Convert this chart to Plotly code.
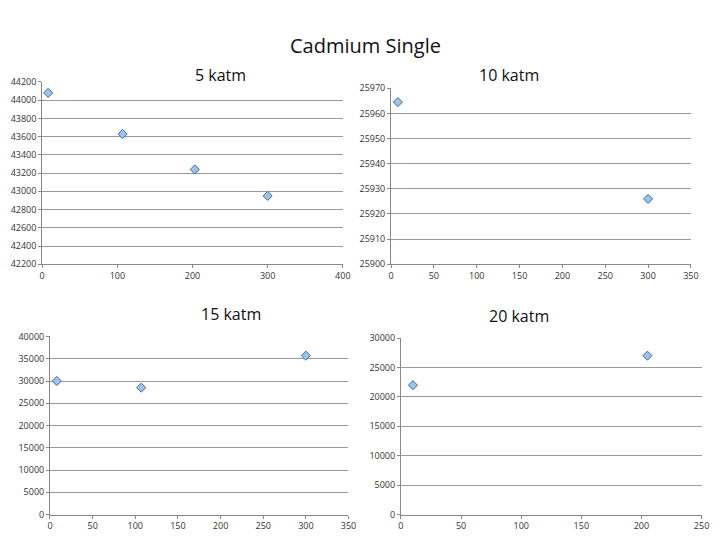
import plotly.graph_objects as go

titles = ["5 katm", "10 katm", "15 katm", "20 katm"]
x5 = [8, 107, 203, 300]
y5 = [44080, 43630, 43240, 42950]
x10 = [8, 300]
y10 = [25964.5, 25926]
x15 = [8, 107, 300]
y15 = [30000, 28500, 35700]
x20 = [10, 205]
y20 = [22000, 27000]

xs = [x5, x10, x15, x20]
ys = [y5, y10, y15, y20]
xranges = [(0, 400, 100), (0, 350, 50), (0, 350, 50), (0, 250, 50)]
yranges = [(42200, 44200, 200), (25900, 25970, 10), (0, 40000, 5000), (0, 30000, 5000)]
xdom = [(0.044, 0.468), (0.536, 0.959), (0.055, 0.476), (0.550, 0.974)]
ydom = [(0.527, 0.873), (0.527, 0.861), (0.052, 0.390), (0.052, 0.387)]
title_y = [0.911, 0.911, 0.432, 0.428]

fig = go.Figure()
lay = {}
for i in range(4):
    s = "" if i == 0 else str(i + 1)
    fig.add_trace(go.Scatter(x=xs[i], y=ys[i], mode="markers", xaxis="x" + s, yaxis="y" + s,
                             marker=dict(symbol="diamond", size=7, color="#9dc3e6",
                                         line=dict(color="#3d6aa6", width=1)),
                             showlegend=False))
    x0, x1, dx = xranges[i]
    y0, y1, dy = yranges[i]
    lay["xaxis" + s] = dict(domain=xdom[i], range=[x0, x1], dtick=dx, anchor="y" + s,
                            showgrid=False, zeroline=False, showline=True, linecolor="#888",
                            ticks="outside", ticklen=3, tickcolor="#888", tickformat="d",
                            tickfont=dict(size=9, color="#333"))
    lay["yaxis" + s] = dict(domain=ydom[i], range=[y0, y1], dtick=dy, anchor="x" + s,
                            showgrid=True, gridcolor="#999", zeroline=False, showline=True,
                            linecolor="#888", ticks="outside", ticklen=3, tickcolor="#888",
                            tickformat="d", tickfont=dict(size=9, color="#333"))
anns = [dict(text="Cadmium Single", x=0.5, y=0.972, xref="paper", yref="paper",
             showarrow=False, font=dict(size=20, color="#111"))]
for i in range(4):
    anns.append(dict(text=titles[i], x=(xdom[i][0] + xdom[i][1]) / 2, y=title_y[i],
                     xref="paper", yref="paper", showarrow=False,
                     font=dict(size=16, color="#111")))
fig.update_layout(width=720, height=540, margin=dict(l=0, r=0, t=0, b=0),
                  paper_bgcolor="white", plot_bgcolor="white",
                  font=dict(family="Open Sans"), annotations=anns, **lay)
fig.write_html("out.html")
